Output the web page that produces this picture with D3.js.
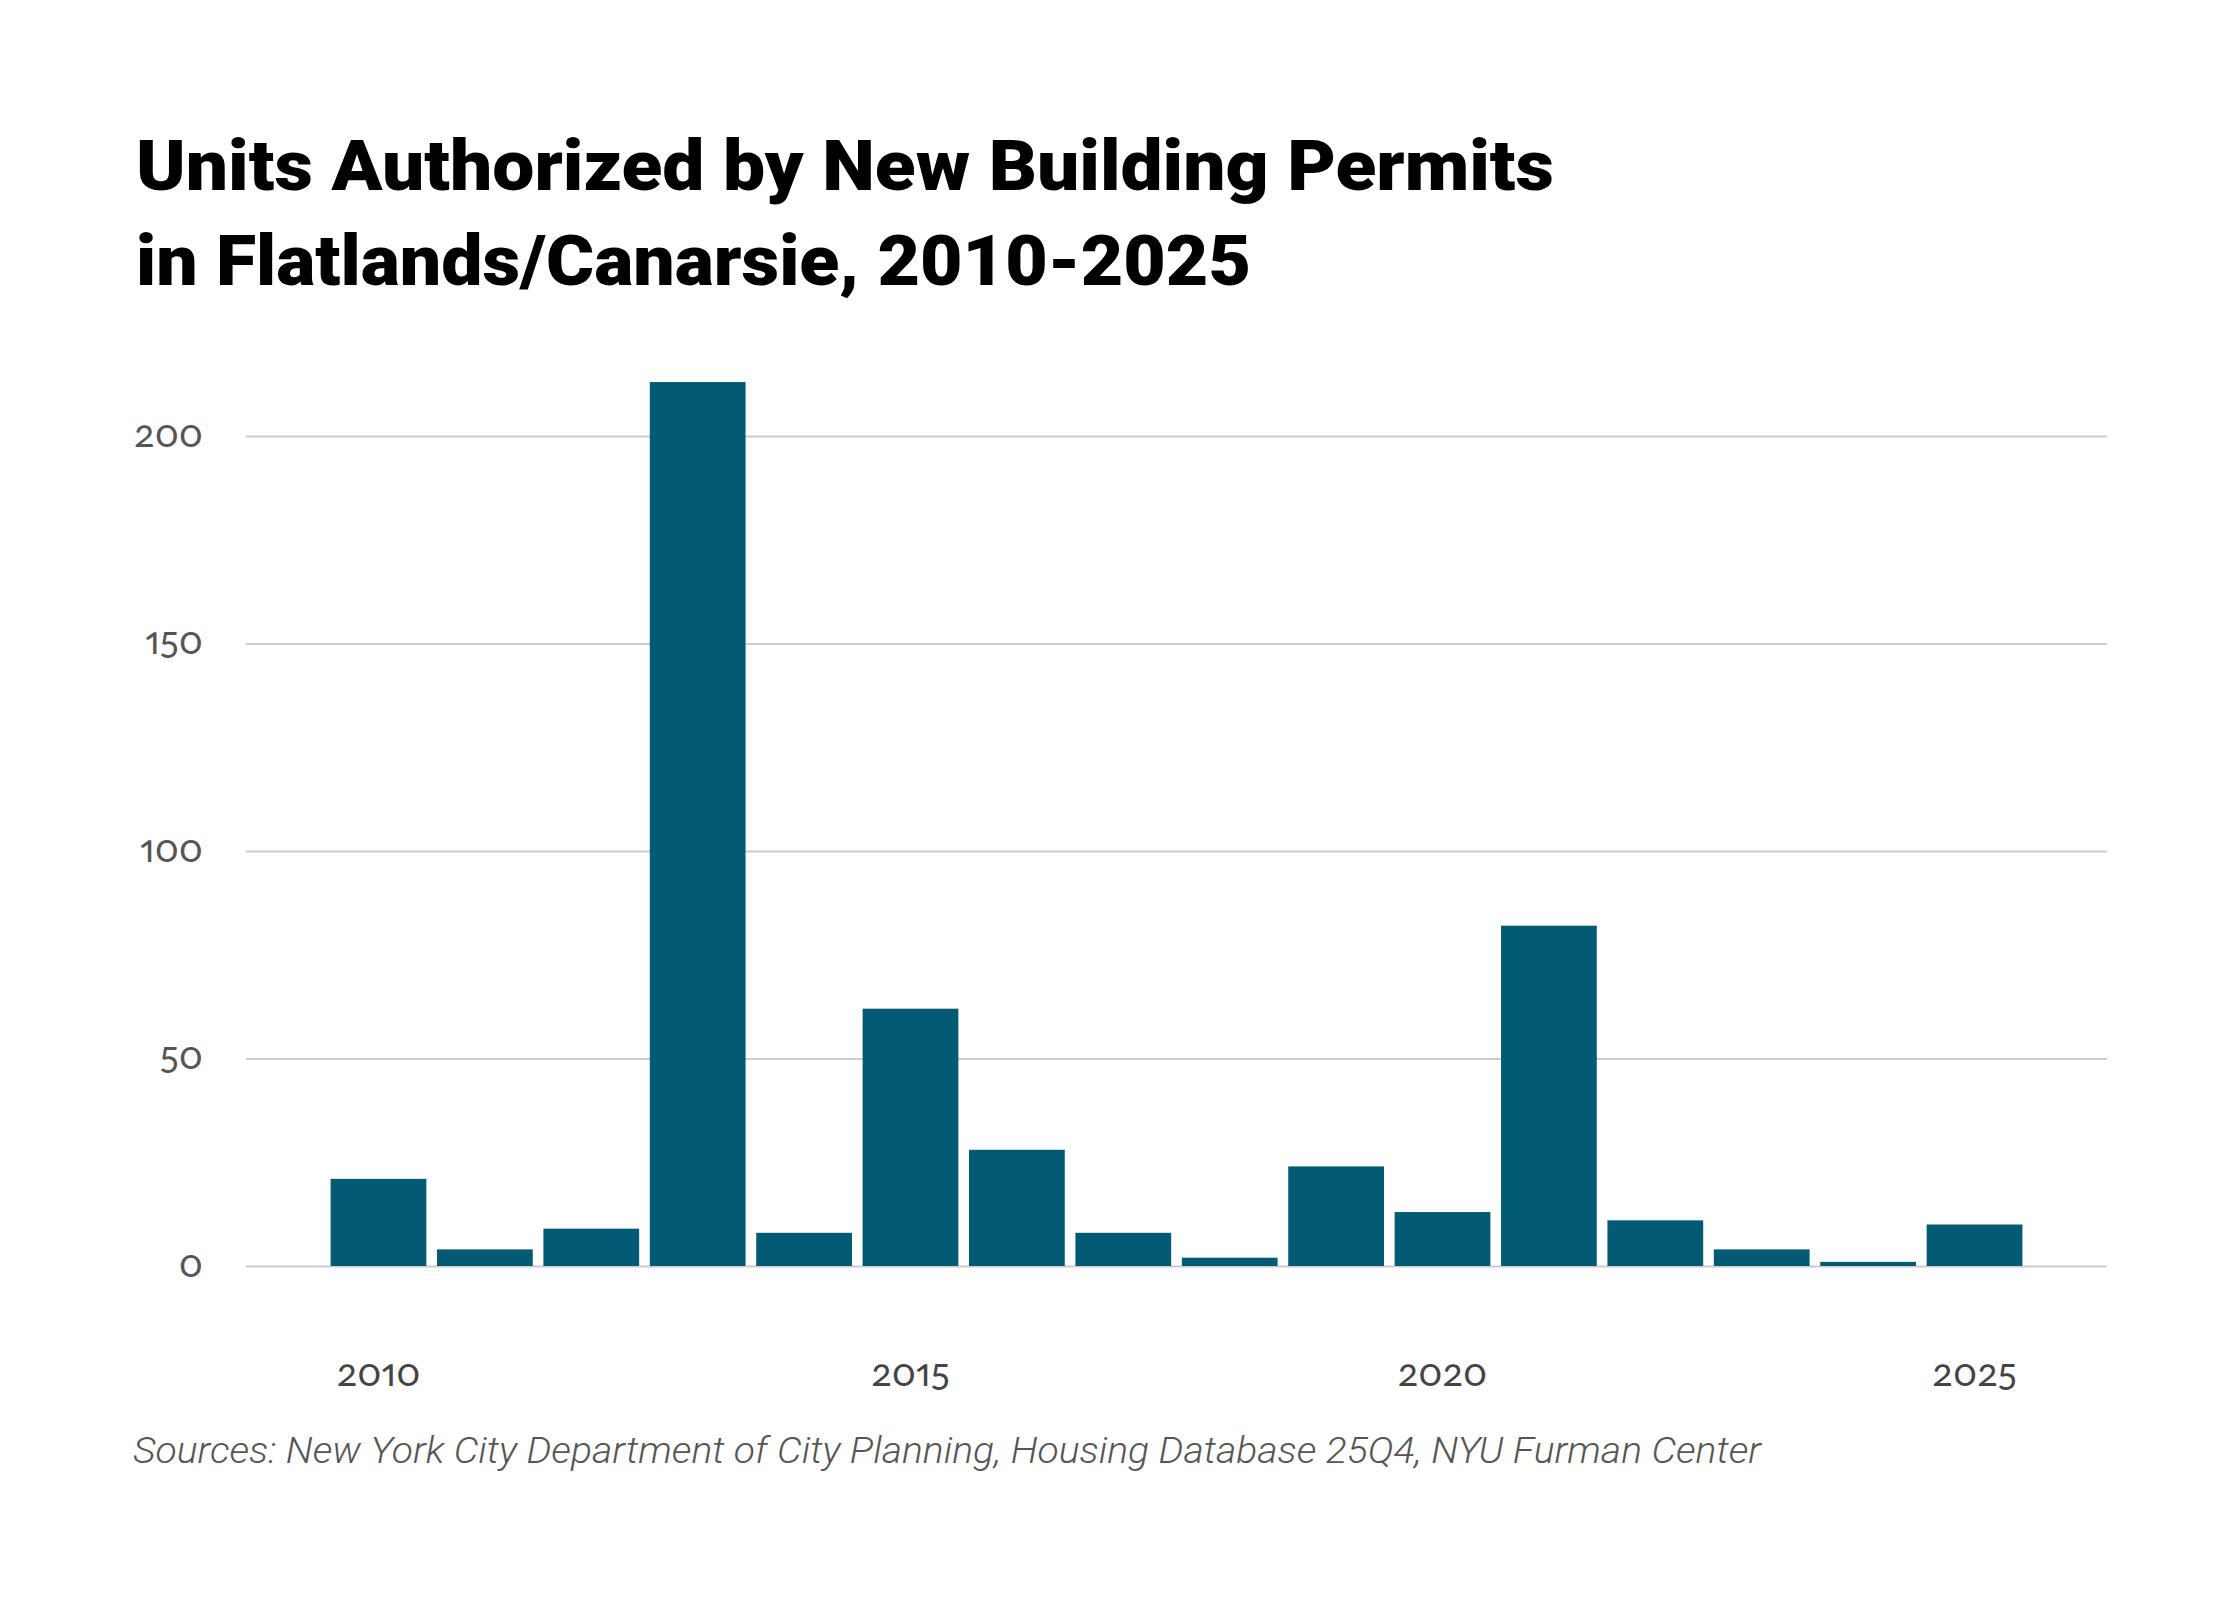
<!DOCTYPE html>
<html>
<head>
<meta charset="utf-8">
<script src="https://cdn.jsdelivr.net/npm/d3@7"></script>
<style>
  html, body { margin: 0; padding: 0; background: #fff; }
  svg { display: block; }
  .num { font-family: Lato, "Noto Sans", sans-serif; font-variant-numeric: oldstyle-nums proportional-nums; font-feature-settings: "onum" 1, "pnum" 1; }
</style>
</head>
<body>
<svg id="chart" width="2240" height="1600"></svg>
<script>
const years = [2010, 2011, 2012, 2013, 2014, 2015, 2016, 2017, 2018, 2019, 2020, 2021, 2022, 2023, 2024, 2025];
const units = [21, 4, 9, 213, 8, 62, 28, 8, 2, 24, 13, 82, 11, 4, 1, 10];
const yTicks = [0, 50, 100, 150, 200];
const xTicks = [2010, 2015, 2020, 2025];
const titleLines = ["Units Authorized by New Building Permits", "in Flatlands/Canarsie, 2010-2025"];
const sourceText = "Sources: New York City Department of City Planning, Housing Database 25Q4, NYU Furman Center";

const svg = d3.select("#chart");
const plot = { left: 246, right: 2107, zeroY: 1266, y200: 436 };

const x = d3.scaleBand().domain(years).range([plot.left, plot.right]).paddingInner(0.1).paddingOuter(0.795);
const y = d3.scaleLinear().domain([0, 200]).range([plot.zeroY, plot.y200]);

// Title
const title = svg.append("g").attr("font-family", "Roboto, 'Open Sans', sans-serif").attr("font-weight", 900).attr("fill", "#000");
const titleLens = [1418, 1115];
const titleBase = [190, 285];
titleLines.forEach((t, i) => {
  title.append("text")
    .attr("x", 136).attr("y", titleBase[i])
    .attr("font-size", 70)
    .attr("textLength", titleLens[i])
    .attr("lengthAdjust", "spacingAndGlyphs")
    .text(t);
});

// Y axis with gridlines
const yAxis = svg.append("g")
  .attr("transform", `translate(${plot.left},0)`)
  .call(d3.axisLeft(y).tickValues(yTicks).tickSize(-(plot.right - plot.left)).tickPadding(43).tickFormat(d3.format("d")));
yAxis.select(".domain").remove();
yAxis.selectAll(".tick line").attr("stroke", "#cccccc").attr("stroke-width", 2);
yAxis.selectAll(".tick text")
  .attr("class", "num")
  .attr("font-size", 38)
  .attr("fill", "#555")
  .attr("dy", "0.27em");

// Bars
svg.append("g").selectAll("rect")
  .data(years.map((yr, i) => ({ yr, v: units[i] })))
  .join("rect")
  .attr("x", d => x(d.yr))
  .attr("width", x.bandwidth())
  .attr("y", d => y(d.v))
  .attr("height", d => y(0) - y(d.v))
  .attr("fill", "#025a75");

// X axis
const xAxis = svg.append("g")
  .attr("transform", `translate(0,${plot.zeroY})`)
  .call(d3.axisBottom(x).tickValues(xTicks).tickSize(0).tickPadding(0));
xAxis.select(".domain").remove();
xAxis.selectAll(".tick text")
  .attr("class", "num")
  .attr("font-size", 38)
  .attr("fill", "#444")
  .attr("y", 120)
  .attr("dy", 0);

// Source
svg.append("text")
  .attr("x", 133).attr("y", 1463)
  .attr("font-family", "Roboto, 'Open Sans', sans-serif")
  .attr("font-style", "italic")
  .attr("font-weight", 300)
  .attr("font-size", 37)
  .attr("fill", "#555")
  .attr("textLength", 1628)
  .attr("lengthAdjust", "spacingAndGlyphs")
  .text(sourceText);
</script>
</body>
</html>
